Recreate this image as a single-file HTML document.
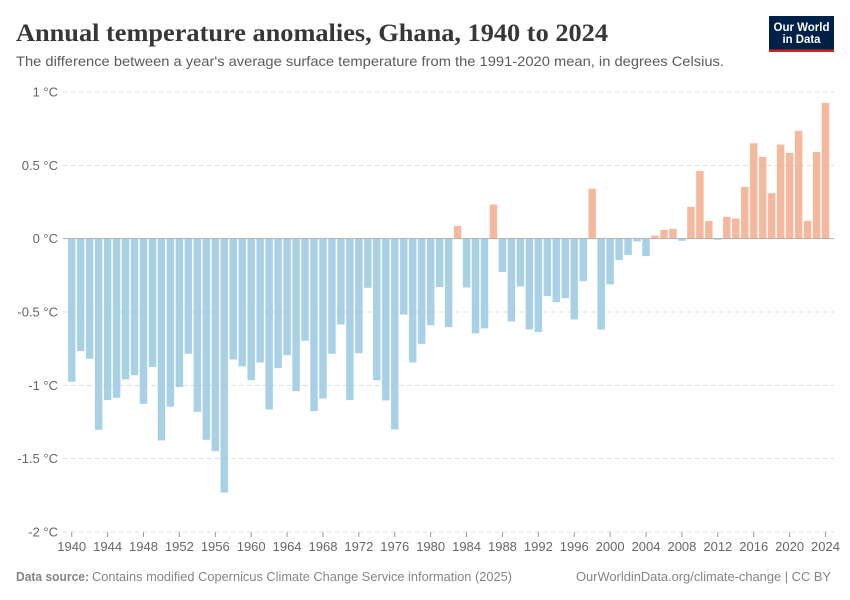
<!DOCTYPE html>
<html>
<head>
<meta charset="utf-8">
<title>Annual temperature anomalies, Ghana, 1940 to 2024</title>
<style>
html,body{margin:0;padding:0;background:#fff;}
svg{display:block;}
text{font-family:"Liberation Sans",sans-serif;}
</style>
</head>
<body>
<svg id="chart" width="850" height="600" viewBox="0 0 850 600" xmlns="http://www.w3.org/2000/svg">
  <rect x="0" y="0" width="850" height="600" fill="#fff"/>
  <text x="16" y="41" font-size="25" font-weight="700" fill="#373737" style="font-family:'Liberation Serif',serif" textLength="592" lengthAdjust="spacingAndGlyphs">Annual temperature anomalies, Ghana, 1940 to 2024</text>
  <text x="16" y="66" font-size="14" fill="#5b5b5b" textLength="708" lengthAdjust="spacingAndGlyphs">The difference between a year's average surface temperature from the 1991-2020 mean, in degrees Celsius.</text>
  <g>
    <rect x="769" y="16" width="65" height="36" fill="#002147"/>
    <rect x="769" y="49.5" width="65" height="2.5" fill="#ce261e"/>
    <text x="801.5" y="31" font-size="11.5" font-weight="700" fill="#fff" text-anchor="middle" textLength="56" lengthAdjust="spacingAndGlyphs">Our World</text>
    <text x="801.5" y="43" font-size="11.5" font-weight="700" fill="#fff" text-anchor="middle" textLength="38" lengthAdjust="spacingAndGlyphs">in Data</text>
  </g>
  <g id="grid"></g>
  <g id="bars"></g>
  <g id="axes"></g>
  <text x="16" y="581" font-size="12.5" font-weight="700" fill="#858585" textLength="73" lengthAdjust="spacingAndGlyphs">Data source:</text>
  <text x="92" y="581" font-size="12.5" fill="#858585" textLength="420" lengthAdjust="spacingAndGlyphs">Contains modified Copernicus Climate Change Service information (2025)</text>
  <text x="576" y="581" font-size="12.5" fill="#858585" textLength="255" lengthAdjust="spacingAndGlyphs">OurWorldinData.org/climate-change | CC BY</text>
</svg>
<script>
const startYear = 1940;
const anomalies = [
  -0.975,-0.766,-0.818,-1.302,-1.10,-1.084,-0.959,-0.93,-1.125,-0.875,
  -1.375,-1.145,-1.011,-0.784,-1.18,-1.37,-1.448,-1.73,-0.823,-0.87,
  -0.964,-0.843,-1.164,-0.882,-0.793,-1.039,-0.695,-1.175,-1.089,-0.784,
  -0.584,-1.10,-0.78,-0.334,-0.964,-1.102,-1.30,-0.516,-0.843,-0.716,
  -0.589,-0.33,-0.602,0.086,-0.332,-0.645,-0.611,0.232,-0.227,-0.564,
  -0.325,-0.618,-0.636,-0.391,-0.432,-0.405,-0.55,-0.289,0.339,-0.618,
  -0.311,-0.145,-0.111,-0.018,-0.118,0.02,0.059,0.066,-0.014,0.216,
  0.461,0.12,-0.006,0.148,0.136,0.352,0.65,0.557,0.309,0.641,
  0.584,0.734,0.12,0.591,0.925
];
const yTicks = [1,0.5,0,-0.5,-1,-1.5,-2];
const yTickLabels = ["1 °C","0.5 °C","0 °C","-0.5 °C","-1 °C","-1.5 °C","-2 °C"];
const xTicks = [1940,1944,1948,1952,1956,1960,1964,1968,1972,1976,1980,1984,1988,1992,1996,2000,2004,2008,2012,2016,2020,2024];

const NS = "http://www.w3.org/2000/svg";
const yScale = v => 238.67 - v * 146.67;
const xScale = yr => 71.7 + (yr - 1940) * 8.974;
const barW = 7.2;
const make = (tag, attrs) => {
  const el = document.createElementNS(NS, tag);
  for (const k in attrs) el.setAttribute(k, attrs[k]);
  return el;
};
const grid = document.getElementById("grid");
const bars = document.getElementById("bars");
const axes = document.getElementById("axes");

yTicks.forEach((t, i) => {
  if (t !== 0) {
    const line = make("line", {x1:63, x2:834, y1:yScale(t), y2:yScale(t), stroke:"#dddddd", "stroke-width":1, "stroke-dasharray":"4.5,3.5"});
    
    
    grid.appendChild(line);
  }
  const label = make("text", {x:58, y:yScale(t)+4.5, "text-anchor":"end", "font-size":13, fill:"#666666"});
  label.textContent = yTickLabels[i];
  
  
  axes.appendChild(label);
});

anomalies.forEach((v, i) => {
  const yr = startYear + i;
  const y0 = yScale(0), y1 = yScale(v);
  const color = v < 0 ? "#94c5df" : "#f4a685";
  const r = make("rect", {
    x: xScale(yr) - barW/2,
    y: Math.min(y0, y1),
    width: barW,
    height: Math.abs(y1 - y0),
    fill: color,
    "fill-opacity": 0.8,
    stroke: color,
    "stroke-opacity": 0.35,
    "stroke-width": 0.5
  });
  
  
  bars.appendChild(r);
});

const zero = make("line", {x1:63, x2:834, y1:yScale(0), y2:yScale(0), stroke:"#b0b0b0", "stroke-width":1});


axes.appendChild(zero);

xTicks.forEach(yr => {
  const tick = make("line", {x1:xScale(yr), x2:xScale(yr), y1:532, y2:537, stroke:"#999999", "stroke-width":1});
  
  
  axes.appendChild(tick);
  const label = make("text", {x:xScale(yr), y:551, "text-anchor":"middle", "font-size":13, fill:"#666666"});
  label.textContent = yr;
  
  
  axes.appendChild(label);
});
</script>
</body>
</html>
